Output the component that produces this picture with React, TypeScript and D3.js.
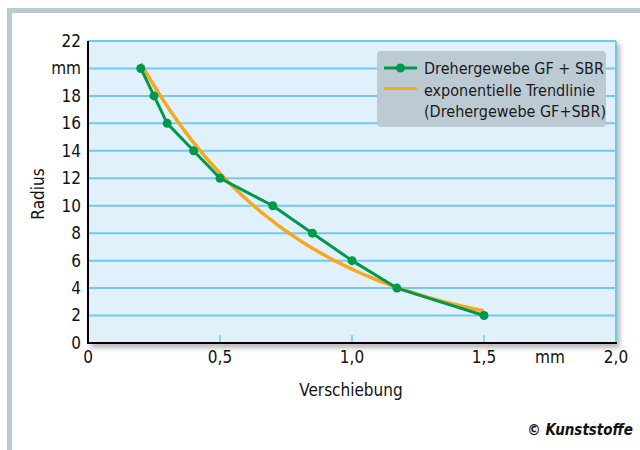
import React from "react";
import * as d3 from "d3";

const xValues = [0.2, 0.25, 0.3, 0.4, 0.5, 0.7, 0.85, 1.0, 1.17, 1.5];
const yValues = [20, 18, 16, 14, 12, 10, 8, 6, 4, 2];
const yTicks = [0, 2, 4, 6, 8, 10, 12, 14, 16, 18, 20, 22];
const yTickLabels = ["0", "2", "4", "6", "8", "10", "12", "14", "16", "18", "mm", "22"];
const xTicks = [0, 0.5, 1.0, 1.5, 1.75, 2.0];
const xTickLabels = ["0", "0,5", "1,0", "1,5", "mm", "2,0"];
const seriesName = "Drehergewebe GF + SBR";
const trendName1 = "exponentielle Trendlinie";
const trendName2 = "(Drehergewebe GF+SBR)";

const FONT = "'Liberation Sans Narrow', 'DejaVu Sans Condensed', 'Open Sans', sans-serif";
const GREEN = "#00994c";
const ORANGE = "#f6a81f";
const GRID = "#74c8ef";

export default function App() {
  const x = d3.scaleLinear().domain([0, 2]).range([88, 616]);
  const y = d3.scaleLinear().domain([0, 22]).range([343, 41]);

  // exponential least squares fit (Excel-style trendline)
  const n = xValues.length;
  const lnY = yValues.map((v) => Math.log(v));
  const mx = d3.mean(xValues) as number;
  const my = d3.mean(lnY) as number;
  let sxy = 0, sxx = 0;
  for (let i = 0; i < n; i++) {
    sxy += (xValues[i] - mx) * (lnY[i] - my);
    sxx += (xValues[i] - mx) ** 2;
  }
  const b = sxy / sxx;
  const a = Math.exp(my - b * mx);
  const x0 = d3.min(xValues) as number;
  const x1 = d3.max(xValues) as number;
  const trendPts = d3.range(0, 61).map((i) => {
    const xv = x0 + ((x1 - x0) * i) / 60;
    return [xv, a * Math.exp(b * xv)] as [number, number];
  });

  const line = d3.line<[number, number]>().x((d) => x(d[0])).y((d) => y(d[1]));
  const dataPts = xValues.map((v, i) => [v, yValues[i]] as [number, number]);

  const left = x(0), right = x(2), top = y(22), bottom = y(0);

  return (
    <svg width={640} height={450} style={{ position: "absolute", left: 0, top: 0, background: "#fff" }} fontFamily={FONT}>
      <defs>
        <filter id="sh" x="-5%" y="-5%" width="115%" height="115%">
          <feGaussianBlur stdDeviation="2.5" />
        </filter>
        <clipPath id="pc">
          <rect x={left} y={top} width={right - left} height={bottom - top} />
        </clipPath>
      </defs>
      {/* frame */}
      <rect x={7} y={8} width={633} height={5} fill="#b9cad3" />
      <rect x={7} y={8} width={5} height={442} fill="#b9cad3" />

      {/* plot shadow */}
      <rect x={left + 3} y={top + 3} width={right - left + 1} height={bottom - top + 2} fill="#8a8a8a" opacity={0.6} filter="url(#sh)" />
      <rect x={left} y={top} width={right - left} height={bottom - top} fill="#e0f1fb" />

      {/* grid */}
      {yTicks.filter((t) => t > 0).map((t) => (
        <line key={t} x1={left} x2={right} y1={y(t)} y2={y(t)} stroke={GRID} strokeWidth={2} />
      ))}
      <line x1={right} x2={right} y1={top} y2={bottom} stroke={GRID} strokeWidth={2} />
      {[0.5, 1.0, 1.5].map((t) => (
        <line key={t} x1={x(t)} x2={x(t)} y1={bottom - 8} y2={bottom} stroke={GRID} strokeWidth={1.5} />
      ))}

      {/* series */}
      <g clipPath="url(#pc)">
        <path d={line(trendPts) || ""} fill="none" stroke={ORANGE} strokeWidth={3.5} />
        <path d={line(dataPts) || ""} fill="none" stroke={GREEN} strokeWidth={3} strokeLinejoin="round" />
        {dataPts.map((d, i) => (
          <circle key={i} cx={x(d[0])} cy={y(d[1])} r={4.5} fill={GREEN} />
        ))}
      </g>

      {/* axes */}
      <line x1={left} x2={left} y1={top} y2={bottom + 1} stroke="#000" strokeWidth={2} />
      <line x1={left - 1} x2={right + 1} y1={bottom} y2={bottom} stroke="#000" strokeWidth={2} />

      {/* y tick labels */}
      {yTicks.map((t, i) => (
        <text key={t} x={81} y={y(t)} dy="0.35em" textAnchor="end" fontSize={17} fill="#111">
          {yTickLabels[i]}
        </text>
      ))}
      {/* x tick labels */}
      {xTicks.map((t, i) => (
        <text key={t} x={x(t)} y={357} dy="0.35em" textAnchor="middle" fontSize={17} fill="#111">
          {xTickLabels[i]}
        </text>
      ))}

      <text x={(left + right) / 2 - 1} y={390} dy="0.35em" textAnchor="middle" fontSize={17} fill="#111">Verschiebung</text>
      <text transform={`translate(38,${(top + bottom) / 2 + 2}) rotate(-90)`} dy="0.35em" textAnchor="middle" fontSize={17} fill="#111">Radius</text>

      {/* legend */}
      <rect x={377} y={51} width={229} height={76} rx={4} fill="#bccbd3" />
      <line x1={384} x2={417} y1={68} y2={68} stroke={GREEN} strokeWidth={3} />
      <circle cx={400.5} cy={68} r={4.5} fill={GREEN} />
      <line x1={384} x2={417} y1={88.5} y2={88.5} stroke={ORANGE} strokeWidth={3} />
      <text x={424} y={68} dy="0.35em" fontSize={16} fill="#1a1a1a">{seriesName}</text>
      <text x={424} y={90} dy="0.35em" fontSize={16} fill="#1a1a1a">{trendName1}</text>
      <text x={424} y={111.5} dy="0.35em" fontSize={16} fill="#1a1a1a">{trendName2}</text>

      <text x={633} y={430} dy="0.35em" textAnchor="end" fontSize={15} fontWeight="bold" fontStyle="italic" fill="#111">© Kunststoffe</text>
    </svg>
  );
}
